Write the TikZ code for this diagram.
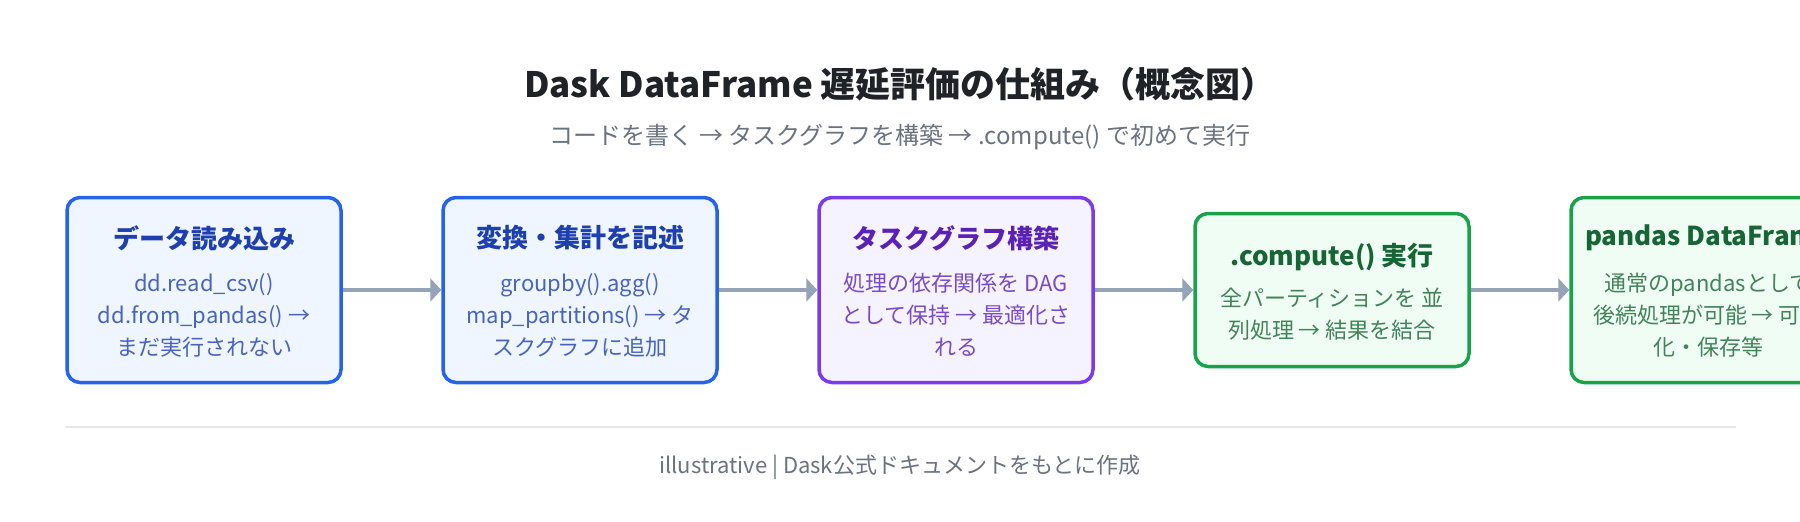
\documentclass[tikz,border=0pt]{standalone}
\usepackage{fontspec}
\setmainfont{Noto Sans CJK JP}
\usetikzlibrary{arrows.meta,positioning}
\definecolor{inkdark}{HTML}{1F2328}
\definecolor{inkgray}{HTML}{6B7280}
\definecolor{rulegray}{HTML}{E5E7EB}
\definecolor{arrowgray}{HTML}{94A3B8}
\definecolor{bluedraw}{HTML}{2563EB}
\definecolor{bluefill}{HTML}{EFF6FF}
\definecolor{bluehead}{HTML}{1E40AF}
\definecolor{bluetext}{HTML}{4864BF}
\definecolor{purpdraw}{HTML}{7C3AED}
\definecolor{purpfill}{HTML}{F5F3FF}
\definecolor{purphead}{HTML}{5B21B6}
\definecolor{purptext}{HTML}{7A4BC5}
\definecolor{greendraw}{HTML}{16A34A}
\definecolor{greenfill}{HTML}{F0FDF4}
\definecolor{greenhead}{HTML}{166534}
\definecolor{greentext}{HTML}{42835A}

\begin{document}
\begin{tikzpicture}[x=1pt, y=-1pt,
    box/.style={draw, rectangle, rounded corners=13pt, line width=3.5pt, minimum width=274pt, minimum height=185pt},
    head/.style={font=\fontsize{26}{30}\selectfont\bfseries},
    body/.style={align=center, font=\fontsize{22}{32}\selectfont},
    flow/.style={draw=arrowgray, line width=4.5pt, -{Triangle[length=11pt,width=23pt]}}]
    \clip (0,0) rectangle (1800,522);
    \fill[white] (0,0) rectangle (1800,522);

    \node[font=\fontsize{35}{40}\selectfont\bfseries, text=inkdark] (title) at (900,84) {Dask DataFrame 遅延評価の仕組み（概念図）};
    \node[font=\fontsize{24}{28}\selectfont, text=inkgray] (subtitle) at (900,137) {コードを書く → タスクグラフを構築 → .compute() で初めて実行};

    \node[box, draw=bluedraw, fill=bluefill] (read) at (204,290) {};
    \node[box, draw=bluedraw, fill=bluefill] (transform) at (580,290) {};
    \node[box, draw=purpdraw, fill=purpfill] (graph) at (956,290) {};
    \node[box, draw=greendraw, fill=greenfill, minimum height=153pt] (compute) at (1332,290) {};
    \node[box, draw=greendraw, fill=greenfill] (result) at (1708,290) {};

    \node[head, text=bluehead] (readhead) at (204,238) {データ読み込み};
    \node[body, text=bluetext] (readbody) at (204,315) {dd.read\_csv()\\dd.from\_pandas() →\\まだ実行されない};
    \node[head, text=bluehead] (transformhead) at (580,238) {変換・集計を記述};
    \node[body, text=bluetext] (transformbody) at (580,315) {groupby().agg()\\map\_partitions() → タ\\スクグラフに追加};
    \node[head, text=purphead] (graphhead) at (956,238) {タスクグラフ構築};
    \node[body, text=purptext] (graphbody) at (956,315) {処理の依存関係を DAG\\として保持 → 最適化さ\\れる};
    \node[head, text=greenhead] (computehead) at (1332,257) {.compute() 実行};
    \node[body, text=greentext] (computebody) at (1332,314) {全パーティションを 並\\列処理 → 結果を結合};
    \node[head, text=greenhead] (resulthead) at (1708,238) {pandas DataFrame};
    \node[body, text=greentext] (resultbody) at (1708,315) {通常のpandasとして\\後続処理が可能 → 可視\\化・保存等};

    \draw[flow] (read) -- (transform);
    \draw[flow] (transform) -- (graph);
    \draw[flow] (graph) -- (compute);
    \draw[flow] (compute) -- (result);

    \coordinate (ruleleft) at (65,427);
    \coordinate (ruleright) at (1736,427);
    \draw[rulegray, line width=2pt] (ruleleft) -- (ruleright);
    \node[font=\fontsize{22}{26}\selectfont, text=inkgray] (footer) at (900,467) {illustrative | Dask公式ドキュメントをもとに作成};
\end{tikzpicture}
\end{document}
